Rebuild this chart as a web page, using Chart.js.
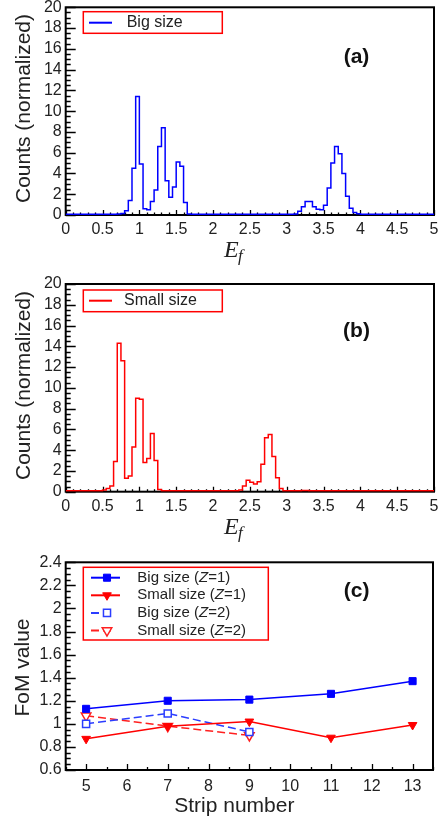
<!DOCTYPE html>
<html>
<head>
<meta charset="utf-8">
<script src="https://cdn.jsdelivr.net/npm/chart.js@4.4.0/dist/chart.umd.min.js"></script>
<style>
  html, body { margin: 0; padding: 0; background: #fff; }
  body { width: 440px; height: 822px; position: relative; overflow: hidden; }
  canvas { position: absolute; left: 0; }
</style>
</head>
<body>
<canvas id="panel-a" width="440" height="268" style="top:0px"></canvas>
<canvas id="panel-b" width="440" height="275" style="top:270px"></canvas>
<canvas id="panel-c" width="440" height="277" style="top:545px"></canvas>
<script>
// E_f histograms, bin width 0.05 from 0 to 5
const binWidth = 0.05;
const efTicks = [0, 0.5, 1, 1.5, 2, 2.5, 3, 3.5, 4, 4.5, 5];
const countTicks = [0, 2, 4, 6, 8, 10, 12, 14, 16, 18, 20];

const bigCounts = [
  0.08, 0.08, 0.08, 0.08, 0.08, 0.08, 0.08, 0.08, 0.08, 0.08,
  0.08, 0.08, 0.08, 0.08, 0.1, 0.15, 0.4, 1.4, 4.5, 11.4,
  4.9, 0.6, 0.5, 1.3, 2.4, 6.6, 8.4, 3.3, 1.7, 2.7,
  5.1, 4.7, 1.2, 0.1, 0.08, 0.08, 0.08, 0.08, 0.08, 0.08,
  0.08, 0.08, 0.08, 0.08, 0.08, 0.08, 0.08, 0.08, 0.08, 0.08,
  0.08, 0.08, 0.08, 0.08, 0.08, 0.08, 0.08, 0.08, 0.08, 0.08,
  0.08, 0.08, 0.1, 0.35, 0.8, 1.3, 1.3, 0.8, 0.55, 0.5,
  0.95, 2.6, 5.0, 6.6, 5.9, 4.0, 1.8, 0.65, 0.25, 0.12,
  0.08, 0.08, 0.08, 0.08, 0.08, 0.08, 0.08, 0.08, 0.08, 0.08,
  0.08, 0.08, 0.08, 0.08, 0.08, 0.08, 0.08, 0.08, 0.08, 0.08
];

const smallCounts = [
  0.08, 0.08, 0.08, 0.08, 0.08, 0.08, 0.08, 0.08, 0.08, 0.1,
  0.16, 0.3, 0.55, 2.9, 14.3, 12.6, 1.3, 1.5, 4.3, 9.0,
  8.9, 2.8, 3.2, 5.6, 3.0, 0.2, 0.08, 0.08, 0.08, 0.08,
  0.08, 0.08, 0.08, 0.08, 0.08, 0.08, 0.08, 0.08, 0.08, 0.08,
  0.08, 0.08, 0.08, 0.08, 0.08, 0.08, 0.1, 0.16, 0.55, 1.1,
  0.9, 0.75, 0.95, 2.65, 5.2, 5.5, 3.4, 1.35, 0.3, 0.08,
  0.08, 0.08, 0.08, 0.08, 0.12, 0.12, 0.08, 0.08, 0.08, 0.08,
  0.08, 0.08, 0.08, 0.08, 0.08, 0.08, 0.08, 0.08, 0.08, 0.08,
  0.08, 0.08, 0.08, 0.08, 0.08, 0.08, 0.08, 0.08, 0.08, 0.08,
  0.08, 0.08, 0.08, 0.08, 0.08, 0.08, 0.08, 0.08, 0.08, 0.08
];

// FoM vs strip number
const stripNumbers = [5, 7, 9, 11, 13];
const stripTicks = [5, 6, 7, 8, 9, 10, 11, 12, 13];
const fomTicks = [0.6, 0.8, 1, 1.2, 1.4, 1.6, 1.8, 2, 2.2, 2.4];
const fomBigZ1 = [1.13, 1.2, 1.21, 1.26, 1.37];
const fomSmallZ1 = [0.87, 0.98, 1.02, 0.88, 0.99];
const fomBigZ2 = [1.0, 1.09, 0.93];
const fomSmallZ2 = [1.07, 0.98, 0.9];

const FONT = '"Liberation Sans", Arial, sans-serif';
const INK = '#222';

function histPoints(counts) {
  const pts = counts.map((c, i) => ({ x: i * binWidth, y: c }));
  pts.push({ x: counts.length * binWidth, y: counts[counts.length - 1] });
  return pts;
}

function pairUp(xs, ys) {
  return ys.map((v, i) => ({ x: xs[i], y: v }));
}

function nearMultiple(v, step) {
  const r = v / step;
  return Math.abs(r - Math.round(r)) < 1e-6;
}

function drawRich(ctx, text, x, y, size) {
  const m = text.match(/^(.*\()Z(=.*)$/);
  const parts = m ? [[m[1], ''], ['Z', 'italic '], [m[2], '']] : [[text, '']];
  let cx = x;
  parts.forEach(([s, style]) => {
    ctx.font = style + size + 'px ' + FONT;
    ctx.fillText(s, cx, y);
    cx += ctx.measureText(s).width;
  });
}

// box, inward tick marks (major + minor), titles, tag and legend
const decor = {
  id: 'decor',
  beforeDatasetsDraw(chart, args, o) {
    const { ctx, chartArea: a } = chart;
    const sx = chart.scales.x, sy = chart.scales.y;
    ctx.save();
    ctx.strokeStyle = '#000';
    ctx.lineWidth = 1.3;
    ctx.beginPath();
    let n = Math.round((sx.max - sx.min) / o.xMinor);
    for (let k = 0; k <= n; k++) {
      const v = sx.min + k * o.xMinor;
      const px = Math.round(sx.getPixelForValue(v)) + 0.5;
      const len = nearMultiple(v, o.xMajor) ? o.xMajorLen : o.xMinorLen;
      ctx.moveTo(px, a.bottom);
      ctx.lineTo(px, a.bottom - len);
    }
    n = Math.round((sy.max - sy.min) / o.yMinor);
    for (let k = 0; k <= n; k++) {
      const v = sy.min + k * o.yMinor;
      const py = Math.round(sy.getPixelForValue(v)) + 0.5;
      const len = nearMultiple(v, o.yMajor) ? 10 : 5;
      ctx.moveTo(a.left, py);
      ctx.lineTo(a.left + len, py);
    }
    ctx.stroke();
    ctx.lineWidth = 2;
    ctx.strokeRect(a.left, a.top, a.right - a.left, a.bottom - a.top);
    ctx.restore();
  },
  afterDraw(chart, args, o) {
    const ctx = chart.ctx;
    ctx.save();
    ctx.fillStyle = INK;

    // y title
    ctx.save();
    ctx.translate(o.yTitle.x, o.yTitle.y);
    ctx.rotate(-Math.PI / 2);
    ctx.font = '21px ' + FONT;
    ctx.textAlign = 'center';
    ctx.textBaseline = 'middle';
    ctx.fillText(o.yTitle.text, 0, 0);
    ctx.restore();

    // x title
    if (o.xTitle.text === 'Ef') {
      ctx.textAlign = 'left';
      ctx.textBaseline = 'alphabetic';
      ctx.font = 'italic 24px "Liberation Serif", "DejaVu Serif", serif';
      ctx.fillText('E', o.xTitle.x, o.xTitle.y);
      ctx.font = 'italic 17px "Liberation Serif", "DejaVu Serif", serif';
      ctx.fillText('f', o.xTitle.x + 14, o.xTitle.y + 4);
    } else {
      ctx.textAlign = 'center';
      ctx.textBaseline = 'middle';
      ctx.font = '21px ' + FONT;
      ctx.fillText(o.xTitle.text, o.xTitle.x, o.xTitle.y);
    }

    // panel tag
    ctx.textAlign = 'center';
    ctx.textBaseline = 'middle';
    ctx.font = 'bold 21px ' + FONT;
    ctx.fillStyle = '#111';
    ctx.fillText(o.tag.text, o.tag.x, o.tag.y);

    // legend
    const lg = o.legend;
    ctx.strokeStyle = '#ff0000';
    ctx.lineWidth = 1.5;
    ctx.strokeRect(lg.x, lg.y, lg.w, lg.h);
    chart.data.datasets.forEach((ds, i) => {
      const cy = lg.y + lg.first + i * lg.gap;
      const dashed = ds.borderDash && ds.borderDash.length;
      ctx.strokeStyle = ds.borderColor;
      ctx.lineWidth = lg.lineW;
      ctx.setLineDash(dashed ? ds.borderDash : []);
      ctx.beginPath();
      ctx.moveTo(lg.x0, cy);
      ctx.lineTo(dashed ? lg.x1Dash : lg.x1, cy);
      ctx.stroke();
      ctx.setLineDash([]);
      if (ds.pointRadius) {
        ctx.fillStyle = ds.pointBackgroundColor;
        ctx.strokeStyle = ds.borderColor;
        ctx.lineWidth = ds.pointBorderWidth;
        Chart.helpers.drawPoint(ctx, {
          pointStyle: ds.pointStyle,
          rotation: ds.pointRotation || 0,
          radius: ds.pointRadius,
          borderWidth: ds.pointBorderWidth
        }, lg.mx, cy);
      }
      ctx.fillStyle = INK;
      ctx.textAlign = 'left';
      ctx.textBaseline = 'middle';
      drawRich(ctx, ds.label, lg.tx, cy, lg.size);
    });
    ctx.restore();
  }
};

function fixedAxes(yWidth, xHeight) {
  return {
    yFit(scale) {
      scale.width = yWidth;
      scale.paddingTop = 0;
      scale.paddingBottom = 0;
    },
    xFit(scale) {
      scale.height = xHeight;
      scale.paddingLeft = 0;
      scale.paddingRight = 0;
    }
  };
}

const tickFont = { family: '"Liberation Sans", Arial, sans-serif', size: 16 };

function histChart(id, label, color, counts, top, xHeight, deco) {
  const fit = fixedAxes(65.7, xHeight);
  return new Chart(document.getElementById(id), {
    type: 'line',
    data: {
      datasets: [{
        label: label,
        data: histPoints(counts),
        borderColor: color,
        borderWidth: 1.5,
        stepped: true,
        pointRadius: 0,
        fill: false
      }]
    },
    options: {
      responsive: false,
      animation: false,
      layout: { padding: { top: top, right: 6, left: 0, bottom: 0 } },
      plugins: { legend: { display: false }, tooltip: { enabled: false }, decor: deco },
      scales: {
        x: {
          type: 'linear', min: 0, max: 5,
          afterBuildTicks: s => { s.ticks = efTicks.map(v => ({ value: v })); },
          afterFit: fit.xFit,
          grid: { display: false, drawTicks: false },
          border: { display: false },
          ticks: { autoSkip: false, maxRotation: 0, padding: 5.4, color: INK, font: tickFont, callback: v => String(v) }
        },
        y: {
          min: 0, max: 20,
          afterBuildTicks: s => { s.ticks = countTicks.map(v => ({ value: v })); },
          afterFit: fit.yFit,
          grid: { display: false, drawTicks: false },
          border: { display: false },
          ticks: { autoSkip: false, padding: 4, color: INK, font: tickFont, callback: v => String(v) }
        }
      }
    },
    plugins: [decor]
  });
}

histChart('panel-a', 'Big size', '#0000ff', bigCounts, 7.3, 53, {
  xMinor: 0.1, xMajor: 0.5, xMajorLen: 5, xMinorLen: 2.5, yMinor: 0.5, yMajor: 2,
  yTitle: { text: 'Counts (normalized)', x: 24, y: 108.5 },
  xTitle: { text: 'Ef', x: 224, y: 257 },
  tag: { text: '(a)', x: 356.5, y: 57 },
  legend: { x: 83.3, y: 11.7, w: 139, h: 21.6, first: 11, gap: 0, lineW: 2, x0: 89, x1: 112, x1Dash: 112, mx: 100, tx: 126.7, size: 16 }
});

histChart('panel-b', 'Small size', '#ff0000', smallCounts, 14, 53.3, {
  xMinor: 0.1, xMajor: 0.5, xMajorLen: 5, xMinorLen: 2.5, yMinor: 0.5, yMajor: 2,
  yTitle: { text: 'Counts (normalized)', x: 24, y: 115.5 },
  xTitle: { text: 'Ef', x: 224, y: 263.7 },
  tag: { text: '(b)', x: 356.5, y: 61 },
  legend: { x: 83.3, y: 20, w: 139, h: 21.7, first: 10.7, gap: 0, lineW: 2, x0: 89, x1: 112, x1Dash: 112, mx: 100, tx: 124, size: 16 }
});

// FoM panel
const fitC = fixedAxes(65.7, 52);
new Chart(document.getElementById('panel-c'), {
  type: 'line',
  data: {
    datasets: [
      {
        label: 'Big size (Z=1)',
        data: pairUp(stripNumbers, fomBigZ1),
        borderColor: '#0000ff', backgroundColor: '#0000ff',
        pointBackgroundColor: '#0000ff', borderWidth: 1.5,
        pointStyle: 'rect', pointRadius: 5, pointBorderWidth: 1
      },
      {
        label: 'Small size (Z=1)',
        data: pairUp(stripNumbers, fomSmallZ1),
        borderColor: '#ff0000', backgroundColor: '#ff0000',
        pointBackgroundColor: '#ff0000', borderWidth: 1.5,
        pointStyle: 'triangle', pointRotation: 180, pointRadius: 5, pointBorderWidth: 1
      },
      {
        label: 'Big size (Z=2)',
        data: pairUp(stripNumbers, fomBigZ2),
        borderColor: '#2b3dff', backgroundColor: '#ffffff',
        pointBackgroundColor: '#ffffff', borderWidth: 1.5, borderDash: [8, 4],
        pointStyle: 'rect', pointRadius: 5, pointBorderWidth: 1.5
      },
      {
        label: 'Small size (Z=2)',
        data: pairUp(stripNumbers, fomSmallZ2),
        borderColor: '#ff2020', backgroundColor: '#ffffff',
        pointBackgroundColor: '#ffffff', borderWidth: 1.5, borderDash: [8, 4],
        pointStyle: 'triangle', pointRotation: 180, pointRadius: 5.5, pointBorderWidth: 1.5
      }
    ]
  },
  options: {
    responsive: false,
    animation: false,
    layout: { padding: { top: 17.3, right: 6, left: 0, bottom: 0 } },
    plugins: {
      legend: { display: false },
      tooltip: { enabled: false },
      decor: {
        xMinor: 0.5, xMajor: 1, xMajorLen: 6, xMinorLen: 3, yMinor: 0.05, yMajor: 0.2,
        yTitle: { text: 'FoM value', x: 23, y: 122.5 },
        xTitle: { text: 'Strip number', x: 234.3, y: 261.7 },
        tag: { text: '(c)', x: 356.7, y: 46.7 },
        legend: { x: 83.3, y: 22.3, w: 185, h: 72.7, first: 10.4, gap: 17.6, lineW: 2, x0: 91, x1: 120, x1Dash: 114, mx: 107, tx: 137.3, size: 15 }
      }
    },
    scales: {
      x: {
        type: 'linear', min: 4.5, max: 13.5,
        afterBuildTicks: s => { s.ticks = stripTicks.map(v => ({ value: v })); },
        afterFit: fitC.xFit,
        grid: { display: false, drawTicks: false },
        border: { display: false },
        ticks: { autoSkip: false, maxRotation: 0, padding: 7, color: INK, font: tickFont, callback: v => String(v) }
      },
      y: {
        min: 0.6, max: 2.4,
        afterBuildTicks: s => { s.ticks = fomTicks.map(v => ({ value: v })); },
        afterFit: fitC.yFit,
        grid: { display: false, drawTicks: false },
        border: { display: false },
        ticks: { autoSkip: false, padding: 4, color: INK, font: tickFont, callback: v => String(v) }
      }
    }
  },
  plugins: [decor]
});
</script>
</body>
</html>
